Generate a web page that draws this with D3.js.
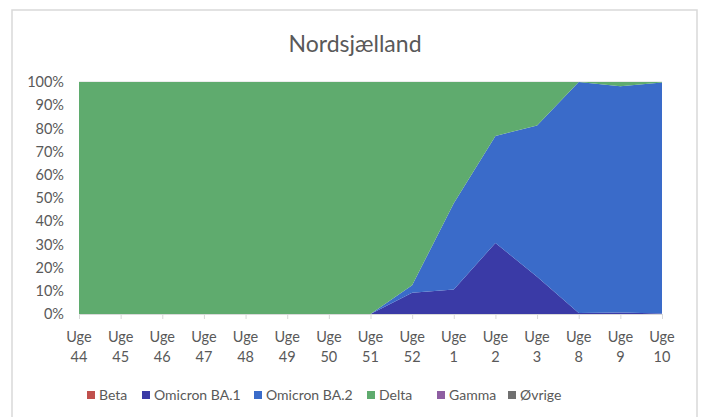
<!DOCTYPE html>
<html>
<head>
<meta charset="utf-8">
<script src="https://cdn.jsdelivr.net/npm/d3@7"></script>
<style>
  body { margin: 0; background: #fff; }
  text { font-family: Lato, "Open Sans", sans-serif; fill: #595959; }
</style>
</head>
<body>
<div id="chart"></div>
<script>
// weeks on the x axis
let weeks = ["44", "45", "46", "47", "48", "49", "50", "51", "52", "1", "2", "3", "8", "9", "10"];

// shares per week (fractions)
let beta    = [0, 0, 0, 0, 0, 0, 0, 0, 0, 0, 0, 0, 0, 0, 0];
let ba1     = [0, 0, 0, 0, 0, 0, 0, 0, 0.092, 0.106, 0.306, 0.161, 0.004, 0.006, 0.002];
let ba2     = [0, 0, 0, 0, 0, 0, 0, 0, 0.032, 0.371, 0.461, 0.652, 0.996, 0.976, 0.996];
let delta   = [1, 1, 1, 1, 1, 1, 1, 1, 0.876, 0.523, 0.233, 0.187, 0, 0.018, 0.002];
let gamma   = [0, 0, 0, 0, 0, 0, 0, 0, 0, 0, 0, 0, 0, 0, 0];
let ovrige  = [0, 0, 0, 0, 0, 0, 0, 0, 0, 0, 0, 0, 0, 0, 0];

let seriesNames = ["Beta", "Omicron BA.1", "Omicron BA.2", "Delta", "Gamma", "Øvrige"];
let seriesColors = ["#c0504d", "#3a3aa6", "#3a6bc9", "#5fab6e", "#8e5ea2", "#707070"];
let yTicks = [0, 0.1, 0.2, 0.3, 0.4, 0.5, 0.6, 0.7, 0.8, 0.9, 1];

let W = 705, H = 417;
let margin = {top: 82, left: 79, right: 43, bottom: 103};
let width = W - margin.left - margin.right,
    height = H - margin.top - margin.bottom;

let table = weeks.map((w, i) => ({
  week: w,
  "Beta": beta[i], "Omicron BA.1": ba1[i], "Omicron BA.2": ba2[i],
  "Delta": delta[i], "Gamma": gamma[i], "Øvrige": ovrige[i]
}));

let svg = d3.select("#chart").append("svg")
    .attr("width", W)
    .attr("height", H);

// chart border
svg.append("rect")
    .attr("x", 12).attr("y", 10)
    .attr("width", 685).attr("height", 420)
    .attr("fill", "none")
    .attr("stroke", "#d9d9d9")
    .attr("stroke-width", 1.5);

svg.append("text")
    .attr("x", 355).attr("y", 52)
    .attr("text-anchor", "middle")
    .style("font-size", "23px")
    .text("Nordsjælland");

let g = svg.append("g")
    .attr("transform", "translate(" + margin.left + "," + margin.top + ")");

let x = d3.scalePoint().domain(weeks).range([0, width]);
let y = d3.scaleLinear().domain([0, 1]).range([height, 0]);

let stack = d3.stack().keys(seriesNames);
let layers = stack(table);

let area = d3.area()
    .x(d => x(d.data.week))
    .y0(d => y(d[0]))
    .y1(d => y(d[1]));

// top gridline
g.append("line")
    .attr("x1", 0).attr("x2", width)
    .attr("y1", y(1)).attr("y2", y(1))
    .attr("stroke", "#d9d9d9");

g.selectAll(".layer")
    .data(layers)
    .enter().append("path")
    .attr("class", "layer")
    .attr("d", area)
    .attr("fill", (d, i) => seriesColors[i]);

// y axis
let yAxis = g.append("g")
    .call(d3.axisLeft(y).tickValues(yTicks).tickFormat(d3.format(".0%")).tickSize(0).tickPadding(15));
yAxis.select(".domain").remove();
yAxis.selectAll("text").style("font-size", "14.5px").style("fill", "#595959").style("font-family", "Lato, sans-serif");

// x axis
let xAxis = g.append("g")
    .attr("transform", "translate(0," + height + ")")
    .call(d3.axisBottom(x).tickSize(5).tickFormat(""));
xAxis.select(".domain").attr("stroke", "#d9d9d9");
xAxis.selectAll("line").attr("stroke", "#d9d9d9");

let xl = g.append("g").selectAll("text")
    .data(weeks)
    .enter().append("text")
    .attr("x", d => x(d))
    .attr("y", height + 28)
    .attr("text-anchor", "middle")
    .style("font-size", "14.5px");
xl.append("tspan").attr("x", d => x(d)).text("Uge");
xl.append("tspan").attr("x", d => x(d)).attr("dy", 20).text(d => d);

// legend
let legendX = [87, 142, 254, 367, 437, 508];
let lg = svg.append("g").selectAll("g")
    .data(seriesNames)
    .enter().append("g")
    .attr("transform", (d, i) => "translate(" + legendX[i] + ",391)");
lg.append("rect")
    .attr("width", 8).attr("height", 8)
    .attr("fill", (d, i) => seriesColors[i]);
lg.append("text")
    .attr("x", 12).attr("y", 9)
    .style("font-size", "14px")
    .text(d => d);
</script>
</body>
</html>
